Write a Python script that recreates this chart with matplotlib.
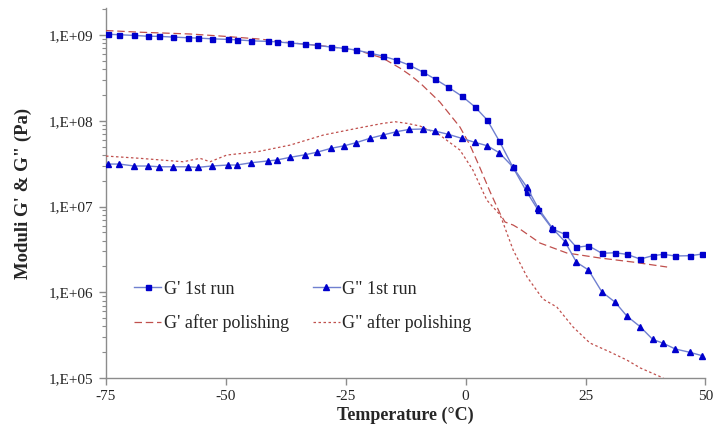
import matplotlib
matplotlib.use("Agg")
import matplotlib.pyplot as plt
from matplotlib.ticker import LogLocator, NullFormatter

# ---------------- data ----------------
temp_1st = [-74.5, -72.2, -69.1, -66.3, -63.9, -61.1, -57.8, -55.9, -53.0, -49.5,
            -47.7, -44.8, -41.3, -39.4, -36.6, -33.5, -31.1, -28.1, -25.3, -22.9,
            -20.0, -17.3, -14.5, -11.8, -9.0, -6.4, -3.6, -0.8, 1.9, 4.5,
            7.0, 9.8, 12.7, 15.1, 18.1, 20.7, 23.1, 25.6, 28.4, 31.2,
            33.6, 36.4, 39.0, 41.2, 43.7, 46.8, 49.3]
gp_1st = [1.02e9, 1.01e9, 9.9e8, 9.7e8, 9.66e8, 9.48e8, 9.3e8, 9.23e8, 9.05e8, 8.9e8,
          8.8e8, 8.58e8, 8.44e8, 8.35e8, 8.07e8, 7.85e8, 7.59e8, 7.25e8, 7.0e8, 6.69e8,
          6.17e8, 5.69e8, 5.11e8, 4.47e8, 3.73e8, 3.07e8, 2.46e8, 1.94e8, 1.46e8, 1.02e8,
          5.81e7, 2.91e7, 1.49e7, 9.1e6, 5.47e6, 4.74e6, 3.34e6, 3.49e6, 2.85e6, 2.89e6,
          2.77e6, 2.44e6, 2.67e6, 2.77e6, 2.65e6, 2.67e6, 2.79e6]
gpp_1st = [3.13e7, 3.13e7, 2.97e7, 2.97e7, 2.91e7, 2.91e7, 2.91e7, 2.86e7, 2.97e7, 3.05e7,
           3.05e7, 3.24e7, 3.40e7, 3.49e7, 3.75e7, 4.02e7, 4.29e7, 4.77e7, 5.12e7, 5.55e7,
           6.24e7, 6.82e7, 7.45e7, 7.94e7, 8.02e7, 7.59e7, 6.95e7, 6.24e7, 5.61e7, 5.12e7,
           4.24e7, 2.91e7, 1.70e7, 9.6e6, 5.57e6, 3.89e6, 2.24e6, 1.82e6, 1.01e6, 7.63e5,
           5.28e5, 3.96e5, 2.82e5, 2.54e5, 2.18e5, 1.99e5, 1.82e5]

temp_gp_pol = [-75.0, -67.9, -57.5, -50.6, -42.9, -36.6, -30.4, -22.7, -17.3, -13.7,
               -11.6, -9.5, -5.4, -1.2, 0.9, 3.0, 5.1, 7.2, 8.2, 9.9,
               11.3, 15.5, 21.1, 28.0, 34.9, 42.0]
gp_pol = [1.13e9, 1.08e9, 1.03e9, 9.7e8, 8.98e8, 8.13e8, 7.55e8, 6.69e8, 5.39e8, 4.12e8,
          3.42e8, 2.76e8, 1.66e8, 8.46e7, 5.2e7, 2.81e7, 1.48e7, 8.2e6, 6.6e6, 6.08e6,
          5.47e6, 3.75e6, 2.87e6, 2.51e6, 2.25e6, 1.97e6]

temp_gpp_pol = [-75.0, -67.9, -58.9, -55.4, -53.3, -49.8, -43.5, -36.6, -29.7, -22.7,
                -17.3, -14.7, -12.2, -9.5, -5.4, -1.2, 1.5, 4.4, 7.2, 9.9,
                12.8, 16.1, 19.0, 22.4, 25.9, 30.1, 33.6, 36.4, 41.2]
gpp_pol = [3.88e7, 3.65e7, 3.33e7, 3.65e7, 3.33e7, 3.99e7, 4.35e7, 5.21e7, 6.82e7, 8.17e7,
           9.33e7, 9.75e7, 9.33e7, 8.68e7, 6.82e7, 4.56e7, 2.67e7, 1.19e7, 7.96e6, 3.11e6,
           1.51e6, 8.34e5, 6.73e5, 3.93e5, 2.56e5, 2.01e5, 1.62e5, 1.31e5, 1.0e5]

xticks = [-75, -50, -25, 0, 25, 50]
yticks = [1e5, 1e6, 1e7, 1e8, 1e9]
ytick_labels = ["1,E+05", "1,E+06", "1,E+07", "1,E+08", "1,E+09"]
series_labels = ["G' 1st run", 'G" 1st run', "G' after polishing", 'G" after polishing']
xlabel = "Temperature (°C)"
ylabel = "Moduli G' & G\" (Pa)"

# ---------------- style ----------------
plt.rcParams['font.family'] = ['Liberation Serif', 'DejaVu Serif']
blue_line = '#7080d0'
blue_mark = '#0000cc'
red = '#c0504d'
axis_grey = '#8c8c8c'
text_col = '#262626'

fig = plt.figure(figsize=(7.27, 4.32), dpi=100)
ax = fig.add_axes([0.1458, 0.125, 0.9704 - 0.1458, 0.9815 - 0.125])

l1, = ax.plot(temp_1st, gp_1st, color=blue_line, lw=1.0, marker='s', ms=3.6,
              mfc=blue_mark, mec=blue_mark, label=series_labels[0], zorder=4)
l2, = ax.plot(temp_1st, gpp_1st, color=blue_line, lw=1.0, marker='^', ms=4.6,
              mfc=blue_mark, mec=blue_mark, label=series_labels[1], zorder=4)
l3, = ax.plot(temp_gp_pol, gp_pol, color=red, lw=0.9, ls=(0, (6, 3)),
              label=series_labels[2], zorder=3)
l4, = ax.plot(temp_gpp_pol, gpp_pol, color=red, lw=0.9, ls=(0, (2, 2)),
              label=series_labels[3], zorder=3)

ax.set_yscale('log')
ax.set_xlim(-75, 50)
ax.set_ylim(1e5, 2.07e9)
ax.set_xticks(xticks)
ax.set_xticklabels([str(t) for t in xticks])
ax.set_yticks(yticks)
ax.set_yticklabels(ytick_labels)
ax.yaxis.set_minor_locator(LogLocator(base=10, subs=range(2, 10), numticks=20))
ax.yaxis.set_minor_formatter(NullFormatter())

for s in ['top', 'right']:
    ax.spines[s].set_visible(False)
for s in ['left', 'bottom']:
    ax.spines[s].set_color(axis_grey)
    ax.spines[s].set_linewidth(1.0)
ax.tick_params(axis='both', which='major', direction='out', length=5, width=1,
               color=axis_grey, labelsize=11, labelcolor=text_col, pad=4)
ax.tick_params(axis='y', which='minor', direction='out', length=3, width=0.8,
               color=axis_grey)
ax.tick_params(axis='x', which='minor', length=0)

ax.set_xlabel(xlabel, fontsize=13, fontweight='bold', color=text_col, labelpad=2)
ax.set_ylabel(ylabel, fontsize=13.5, fontweight='bold', color=text_col, labelpad=12)

leg = ax.legend(handles=[l1, l3, l2, l4], ncol=2, frameon=False, fontsize=13,
                handlelength=1.5, handletextpad=0.15, columnspacing=1.3,
                labelspacing=0.92, loc='upper left',
                bbox_to_anchor=(0.035, 0.283), borderaxespad=0)
for t in leg.get_texts():
    t.set_color(text_col)

fig.savefig('out.png', dpi=100)
